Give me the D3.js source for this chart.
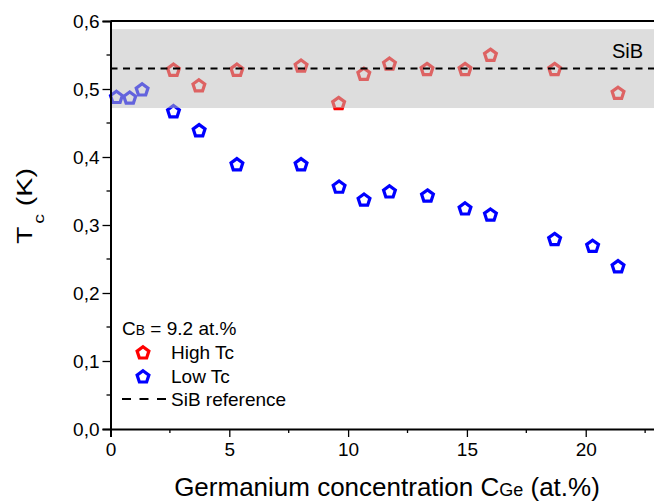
<!DOCTYPE html>
<html>
<head>
<meta charset="utf-8">
<script src="https://cdn.jsdelivr.net/npm/d3@7"></script>
<style>
  body { margin: 0; background: #fff; }
  text { font-family: "Liberation Sans", Arial, sans-serif; fill: #000; }
</style>
</head>
<body>
<div id="chart"></div>
<script>
// data
const highX = [2.65, 3.72, 5.32, 8.02, 9.6, 10.66, 11.74, 13.32, 14.92, 15.99, 18.69, 21.36];
const highTc = [0.529, 0.506, 0.529, 0.535, 0.480, 0.523, 0.538, 0.530, 0.530, 0.551, 0.530, 0.495];
const lowX = [0.25, 0.81, 1.33, 2.65, 3.73, 5.32, 8.02, 9.62, 10.67, 11.74, 13.34, 14.92, 15.99, 18.69, 20.29, 21.36];
const lowTc = [0.489, 0.488, 0.500, 0.468, 0.440, 0.390, 0.390, 0.357, 0.338, 0.350, 0.344, 0.325, 0.316, 0.280, 0.270, 0.240];
const sibRef = 0.530;
const sibBand = [0.472, 0.588];
const xTicks = [0, 5, 10, 15, 20];
const yTicks = [0, 0.1, 0.2, 0.3, 0.4, 0.5, 0.6];

const W = 654, H = 504;
const margin = { top: 21, right: -3, bottom: 75, left: 110.5 };

const svg = d3.select("#chart").append("svg")
    .attr("width", W)
    .attr("height", H);

const x = d3.scaleLinear().domain([0, 23]).range([margin.left, W - margin.right]);
const y = d3.scaleLinear().domain([0, 0.6]).range([H - margin.bottom, margin.top]);

const fmt = d => d3.format(".1f")(d).replace(".", ",");

// pentagon path, point up
function pentagon(r) {
    const pts = d3.range(5).map(i => {
        const a = -Math.PI / 2 + i * 2 * Math.PI / 5;
        return [r * Math.cos(a), r * Math.sin(a)];
    });
    return "M" + pts.map(p => p.join(",")).join("L") + "Z";
}
const pent = pentagon(6.2);

// markers
svg.append("g").selectAll("path")
    .data(lowX.map((v, i) => ({ x: v, y: lowTc[i] })))
    .join("path")
    .attr("d", pent)
    .attr("transform", d => `translate(${x(d.x)},${y(d.y) + 1})`)
    .attr("fill", "#fff")
    .attr("stroke", "#0000ff")
    .attr("stroke-width", 3.2);

svg.append("g").selectAll("path")
    .data(highX.map((v, i) => ({ x: v, y: highTc[i] })))
    .join("path")
    .attr("d", pent)
    .attr("transform", d => `translate(${x(d.x)},${y(d.y) + 1})`)
    .attr("fill", "#fff")
    .attr("stroke", "#ff0000")
    .attr("stroke-width", 3.2);

// translucent band over the points
svg.append("rect")
    .attr("x", x(0))
    .attr("y", y(sibBand[1]))
    .attr("width", x(23) - x(0))
    .attr("height", y(sibBand[0]) - y(sibBand[1]))
    .attr("fill", "rgb(190,190,190)")
    .attr("fill-opacity", 0.52);

svg.append("line")
    .attr("x1", x(0))
    .attr("x2", x(23))
    .attr("y1", y(sibRef))
    .attr("y2", y(sibRef))
    .attr("stroke", "#000")
    .attr("stroke-width", 2)
    .attr("stroke-dasharray", "7,5.5");

svg.append("text")
    .attr("x", 643)
    .attr("y", 58)
    .attr("text-anchor", "end")
    .style("font-size", "20px")
    .text("SiB");

// axes
const xAxis = svg.append("g")
    .attr("transform", `translate(0,${y(0)})`)
    .call(d3.axisBottom(x).tickValues(xTicks).tickSize(8).tickPadding(6).tickFormat(d3.format("d")));
xAxis.append("g").selectAll("line")
    .data([2.5, 7.5, 12.5, 17.5, 22.5])
    .join("line")
    .attr("x1", d => x(d)).attr("x2", d => x(d))
    .attr("y1", 0).attr("y2", 4)
    .attr("stroke", "#000").attr("stroke-width", 1.3);

const yAxis = svg.append("g")
    .attr("transform", `translate(${x(0)},0)`)
    .call(d3.axisLeft(y).tickValues(yTicks).tickSize(8).tickPadding(3).tickFormat(fmt));
yAxis.append("g").selectAll("line")
    .data([0.05, 0.15, 0.25, 0.35, 0.45, 0.55])
    .join("line")
    .attr("y1", d => y(d)).attr("y2", d => y(d))
    .attr("x1", 0).attr("x2", -4)
    .attr("stroke", "#000").attr("stroke-width", 1.3);

[xAxis, yAxis].forEach(a => {
    a.select(".domain").attr("stroke-width", 2).attr("stroke", "#000");
    a.selectAll(".tick line").attr("stroke-width", 1.3);
    a.selectAll(".tick text").style("font-size", "19px")
        .style("font-family", "'Liberation Sans', Arial, sans-serif").attr("fill", "#000");
});

// top frame
svg.append("line")
    .attr("x1", x(0)).attr("x2", x(23))
    .attr("y1", y(0.6)).attr("y2", y(0.6))
    .attr("stroke", "#000").attr("stroke-width", 2);

// axis titles
const xt = svg.append("text")
    .attr("x", 387)
    .attr("y", 496)
    .attr("text-anchor", "middle")
    .style("font-size", "26px");
xt.append("tspan").text("Germanium concentration C");
xt.append("tspan").style("font-size", "18px").text("Ge");
xt.append("tspan").text(" (at.%)");

const yt = svg.append("text")
    .attr("transform", "translate(32,206) rotate(-90) scale(1.3,1)")
    .attr("text-anchor", "middle")
    .style("font-size", "22px");
yt.append("tspan").text("T");
yt.append("tspan").attr("dx", 2).attr("dy", 12).style("font-size", "15px").text("c");
yt.append("tspan").attr("dy", -12).text(" (K)");

// legend
const leg = svg.append("g");
const lt = leg.append("text").attr("x", 122).attr("y", 335).style("font-size", "19px");
lt.append("tspan").text("C");
lt.append("tspan").style("font-size", "14px").text("B");
lt.append("tspan").text(" = 9.2 at.%");

const legRows = [
    { label: "High Tc", color: "#ff0000", cy: 352 },
    { label: "Low Tc", color: "#0000ff", cy: 376 }
];
legRows.forEach(r => {
    leg.append("path")
        .attr("d", pent)
        .attr("transform", `translate(143,${r.cy + 1})`)
        .attr("fill", "#fff")
        .attr("stroke", r.color)
        .attr("stroke-width", 3.2);
    leg.append("text")
        .attr("x", 171)
        .attr("y", r.cy + 7)
        .style("font-size", "19px")
        .text(r.label);
});
leg.append("line")
    .attr("x1", 122).attr("x2", 166)
    .attr("y1", 399).attr("y2", 399)
    .attr("stroke", "#000").attr("stroke-width", 2)
    .attr("stroke-dasharray", "9,8.5");
leg.append("text")
    .attr("x", 171)
    .attr("y", 406)
    .style("font-size", "19px")
    .text("SiB reference");
</script>
</body>
</html>
